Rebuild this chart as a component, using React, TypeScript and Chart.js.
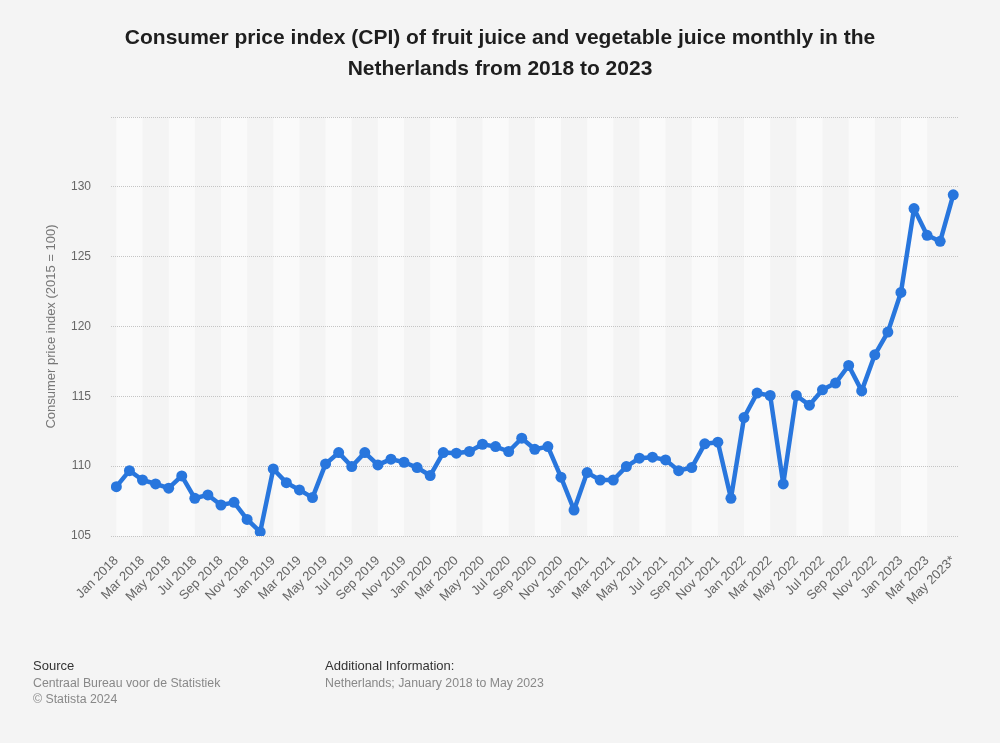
import React, { useEffect, useRef } from "react";
import { Chart, registerables } from "chart.js";

Chart.register(...registerables);

const monthLabels: string[] = [
  "Jan 2018", "Feb 2018", "Mar 2018", "Apr 2018", "May 2018", "Jun 2018", "Jul 2018", "Aug 2018", "Sep 2018", "Oct 2018", "Nov 2018", "Dec 2018",
  "Jan 2019", "Feb 2019", "Mar 2019", "Apr 2019", "May 2019", "Jun 2019", "Jul 2019", "Aug 2019", "Sep 2019", "Oct 2019", "Nov 2019", "Dec 2019",
  "Jan 2020", "Feb 2020", "Mar 2020", "Apr 2020", "May 2020", "Jun 2020", "Jul 2020", "Aug 2020", "Sep 2020", "Oct 2020", "Nov 2020", "Dec 2020",
  "Jan 2021", "Feb 2021", "Mar 2021", "Apr 2021", "May 2021", "Jun 2021", "Jul 2021", "Aug 2021", "Sep 2021", "Oct 2021", "Nov 2021", "Dec 2021",
  "Jan 2022", "Feb 2022", "Mar 2022", "Apr 2022", "May 2022", "Jun 2022", "Jul 2022", "Aug 2022", "Sep 2022", "Oct 2022", "Nov 2022", "Dec 2022",
  "Jan 2023", "Feb 2023", "Mar 2023", "Apr 2023", "May 2023*",
];

const cpiValues: number[] = [
  108.53, 109.68, 109.01, 108.73, 108.42, 109.30, 107.70, 107.94, 107.22, 107.41, 106.19, 105.29,
  109.80, 108.82, 108.30, 107.75, 110.16, 110.97, 109.97, 110.97, 110.09, 110.50, 110.28, 109.90,
  109.33, 110.97, 110.93, 111.05, 111.57, 111.40, 111.05, 112.00, 111.21, 111.40, 109.21, 106.86,
  109.54, 109.01, 109.01, 109.97, 110.57, 110.64, 110.45, 109.68, 109.90, 111.60, 111.72, 107.70,
  113.48, 115.23, 115.06, 108.73, 115.06, 114.37, 115.47, 115.95, 117.21, 115.39, 117.97, 119.60,
  122.44, 128.44, 126.53, 126.10, 129.43,
];

const yMin = 105;
const yMax = 135;
const yStep = 5;

const FONT = "Arial, 'Liberation Sans', Helvetica, sans-serif";

const bandPlugin = {
  id: "bands",
  beforeDraw(chart: any) {
    const { ctx, chartArea, scales } = chart;
    const xs = scales.x;
    ctx.save();
    ctx.fillStyle = "#fafafa";
    for (let i = 0; i + 2 <= monthLabels.length - 1; i += 4) {
      const x0 = xs.getPixelForValue(i);
      const x1 = xs.getPixelForValue(i + 2);
      ctx.fillRect(x0, chartArea.top, x1 - x0, chartArea.bottom - chartArea.top);
    }
    ctx.restore();
  },
};

export default function App() {
  const ref = useRef<HTMLCanvasElement | null>(null);

  useEffect(() => {
    if (!ref.current) return;
    const chart = new Chart(ref.current, {
      type: "line",
      data: {
        datasets: [
          {
            data: cpiValues.map((v, i) => ({ x: i, y: v })),
            borderColor: "#2876dd",
            backgroundColor: "#2876dd",
            borderWidth: 4.5,
            borderJoinStyle: "round",
            borderCapStyle: "round",
            pointRadius: 5.5,
            pointBorderWidth: 0,
            pointBackgroundColor: "#2876dd",
            tension: 0,
          },
        ],
      },
      plugins: [bandPlugin],
      options: {
        animation: false,
        responsive: false,
        devicePixelRatio: 1,
        layout: { padding: { top: 117, right: 41, bottom: 0, left: 0 } },
        plugins: {
          legend: { display: false },
          tooltip: { enabled: false },
        },
        scales: {
          x: {
            type: "linear",
            min: -0.41,
            max: 64.44,
            grid: { display: false },
            border: { display: false },
            afterBuildTicks: (s: any) => {
              s.ticks = monthLabels
                .map((_, i) => ({ value: i }))
                .filter((t) => t.value % 2 === 0);
            },
            afterFit: (s: any) => {
              s.height = 207;
            },
            ticks: {
              autoSkip: false,
              minRotation: 45,
              maxRotation: 45,
              padding: 9,
              color: "#666",
              font: { family: FONT, size: 13 },
              callback: (v: any) => monthLabels[v as number] ?? "",
            },
          },
          y: {
            min: yMin,
            max: yMax,
            afterFit: (s: any) => {
              s.width = 111;
            },
            grid: { color: "#c4c4c4", lineWidth: 1, drawTicks: false },
            border: { display: false, dash: [1, 1] },
            ticks: {
              stepSize: yStep,
              padding: 20,
              color: "#666",
              font: { family: FONT, size: 12 },
              callback: (v: any) => (v === yMax ? "" : String(v)),
            },
            title: {
              display: true,
              text: "Consumer price index (2015 = 100)",
              color: "#777",
              font: { family: FONT, size: 13, weight: "normal" },
              padding: { top: 44, bottom: 0 },
            },
          },
        },
      } as any,
    });
    return () => chart.destroy();
  }, []);

  return (
    <div
      style={{
        position: "absolute",
        left: 0,
        top: 0,
        width: 1000,
        height: 743,
        background: "#f4f4f4",
        fontFamily: FONT,
        overflow: "hidden",
      }}
    >
      <canvas
        ref={ref}
        width={1000}
        height={743}
        style={{ position: "absolute", left: 0, top: 0, width: 1000, height: 743 }}
      />
      <div
        style={{
          position: "absolute",
          top: 21,
          left: 0,
          width: 1000,
          textAlign: "center",
          fontWeight: "bold",
          fontSize: 21,
          lineHeight: "31px",
          color: "#1e1e1e",
        }}
      >
        Consumer price index (CPI) of fruit juice and vegetable juice monthly in the
        <br />
        Netherlands from 2018 to 2023
      </div>
      <div style={{ position: "absolute", left: 33, top: 658, lineHeight: "16.5px" }}>
        <div style={{ color: "#333", fontSize: 13 }}>Source</div>
        <div style={{ color: "#888", fontSize: 12.3 }}>Centraal Bureau voor de Statistiek</div>
        <div style={{ color: "#888", fontSize: 12.3 }}>© Statista 2024</div>
      </div>
      <div style={{ position: "absolute", left: 325, top: 658, lineHeight: "16.5px" }}>
        <div style={{ color: "#333", fontSize: 13 }}>Additional Information:</div>
        <div style={{ color: "#888", fontSize: 12.3 }}>Netherlands; January 2018 to May 2023</div>
      </div>
    </div>
  );
}
